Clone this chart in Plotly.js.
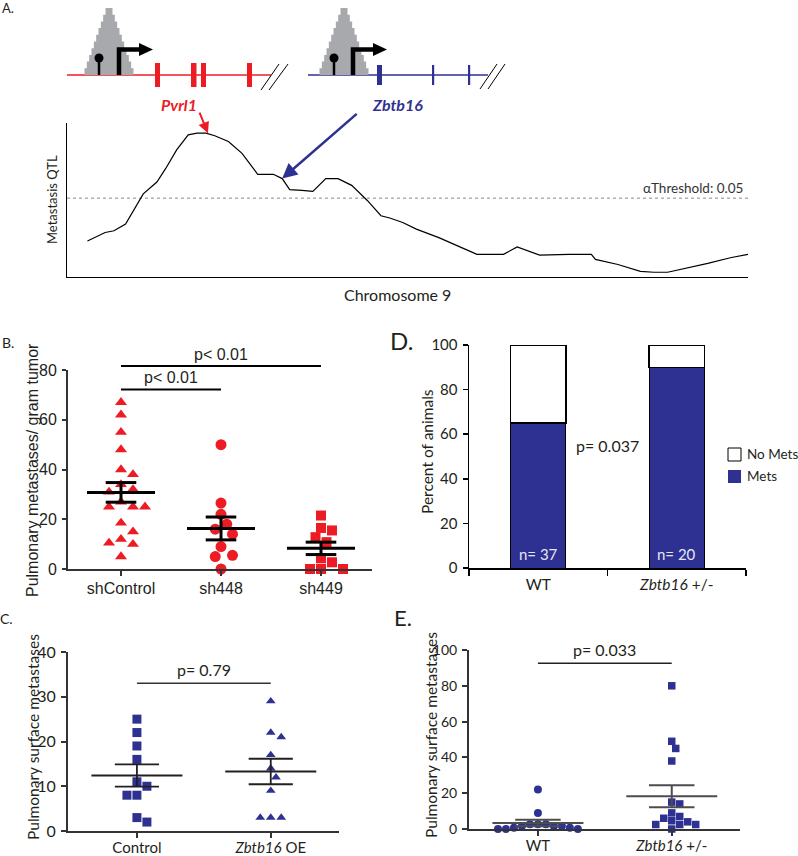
<!DOCTYPE html>
<html><head><meta charset="utf-8">
<script src="https://cdn.plot.ly/plotly-3.0.1.min.js"></script>
<style>html,body{margin:0;padding:0;background:#fff}#chart{width:798px;height:856px}</style>
</head><body><div id="chart"></div>
<script>
// ---------------- DATA ----------------
// Panel A: metastasis QTL along chromosome 9 (relative position, relative score)
const qtlPos = [3.0,5.6,6.9,8.6,11.2,13.2,14.5,16.1,17.8,19.1,20.4,21.7,23.7,25.7,28.0,30.3,31.6,32.7,34.5,36.1,38.0,39.8,41.8,44.1,46.1,47.4,49.3,51.3,54.6,56.9,58.2,60.2,64.1,66.1,69.4,73.7,77.0,77.6,80.9,84.2,86.2,88.2,90.5,94.1,97.4,100];
const qtlScore = [23.4,28.9,30.0,34.4,54.0,61.7,70.5,82.5,92.3,93.4,93.4,91.7,88.0,80.3,66.7,66.7,63.9,56.7,56.2,55.6,63.9,63.9,59.5,49.7,39.8,38.3,35.4,31.1,25.6,20.8,18.6,14.7,14.7,19.5,14.2,14.7,14.7,11.4,8.1,3.7,3.1,3.1,5.3,8.8,12.5,14.7];
const qtlThreshold = 51.2;
const qtlThresholdLabel = 'αThreshold: 0.05';
const genePvrl1Peak = [20.7, 93.4];
const geneZbtb16Point = [31.6, 63.9];

// Panel B
const bCats = ['shControl','sh448','sh449'];
const bShControl = [67,62,55,48,40,38,34,32,31,27,25,25,25,18.5,15,12,10.5,10,5];
const bSh448 = [50,26.5,22,18,16,14,9,5,5.5,0];
const bSh449 = [21.5,16.5,15.5,12.8,10.8,4.3,2.7,0,0,0];
const bMean = [30.8,16.3,8.3];
const bSem = [3.95,4.6,2.5];
const bPText = ['p< 0.01','p< 0.01'];
const bPPairs = [[0,2],[0,1]];
const bPLevel = [81.6,72.2];

// Panel C
const cCats = ['Control','<i>Zbtb16</i> OE'];
const cControl = [25,22,19,16,11,10,8,8,3,2];
const cOE = [29,22,21,17,14,12,9,3,3,3];
const cMean = [12.4,13.3];
const cSem = [2.5,2.85];
const cPText = 'p= 0.79';
const cPLevel = 33;

// Panel D
const dCats = ['WT','<i>Zbtb16</i> +/-'];
const dMets = [65,90];
const dNoMets = [35,10];
const dN = ['n= 37','n= 20'];
const dPText = 'p= 0.037';

// Panel E
const eCats = ['WT','<i>Zbtb16</i> +/-'];
const eWT = [22,9,2.6,2.6,2.6,1.7,1.7,1.7,0.7,0.7,0,0,0];
const eHet = [80,49,45,38,15,14,9,7,6,4.6,4,2.5,2.5,2.5,0];
const eMean = [3.4,18.3];
const eSem = [1.8,6.1];
const ePText = 'p= 0.033';
const ePLevel = 92.6;

// ---------------- STYLE / HELPERS ----------------
const W = 798, H = 856;
const FL = 'Lato, "Open Sans", sans-serif';
const FA = '"Liberation Sans", Arial, sans-serif';
const INK = '#231F20';
const RED = '#ED1C24';
const NAVY = '#2E3192';
const GRAY = '#A7A9AC';
const X = v => v / W;
const Y = v => 1 - v / H;

function swarm(vals, center, pxX, pxY, w) {
  const order = vals.map((v, i) => i).sort((a, b) => vals[b] - vals[a]);
  const placed = [];
  const xs = new Array(vals.length);
  const s = w / 2;
  for (const i of order) {
    const yy = vals[i] * pxY;
    let off = 0;
    for (let k = 0; k < 80; k++) {
      off = k === 0 ? 0 : (k % 2 === 1 ? 1 : -1) * Math.ceil(k / 2) * s;
      const ok = placed.every(p => {
        const dx = p[0] - off, dy = p[1] - yy;
        return dx * dx + dy * dy >= (w * 0.97) * (w * 0.97);
      });
      if (ok) break;
    }
    placed.push([off, yy]);
    xs[i] = center + off / pxX;
  }
  return xs;
}

function meanSem(means, sems, hm, hs) {
  const x = [], y = [];
  means.forEach((m, i) => {
    x.push(i - hm, i + hm, null); y.push(m, m, null);
    x.push(i - hs, i + hs, null); y.push(m + sems[i], m + sems[i], null);
    x.push(i - hs, i + hs, null); y.push(m - sems[i], m - sems[i], null);
    x.push(i, i, null); y.push(m - sems[i], m + sems[i], null);
  });
  return {x, y};
}

function scatter(vals, idx, xa, ya, pxX, pxY, w, symbol, size, color) {
  return {
    type: 'scatter', mode: 'markers', xaxis: xa, yaxis: ya,
    x: swarm(vals, idx, pxX, pxY, w), y: vals, cliponaxis: false,
    marker: {symbol: symbol, size: size, color: color, line: {width: 0}},
    showlegend: false, hoverinfo: 'skip'
  };
}

function lineTrace(x, y, xa, ya, color, width, dash) {
  return {type: 'scatter', mode: 'lines', x: x, y: y, xaxis: xa, yaxis: ya, cliponaxis: false,
    line: {color: color, width: width, dash: dash || 'solid'}, showlegend: false, hoverinfo: 'skip', connectgaps: false};
}

// ---------------- TRACES ----------------
const traces = [];
// A
traces.push(lineTrace([0, 100], [qtlThreshold, qtlThreshold], 'x', 'y', '#8a8a8a', 1, 'dot'));
traces.push(lineTrace(qtlPos, qtlScore, 'x', 'y', '#000', 1.2));

// B (x2/y2): 100 px per category, 199/80 px per unit
const bPX = 100, bPY = 199 / 80;
traces.push(scatter(bShControl, 0, 'x2', 'y2', bPX, bPY, 12, 'triangle-up', 10.5, RED));
traces.push(scatter(bSh448, 1, 'x2', 'y2', bPX, bPY, 11.5, 'circle', 11, RED));
traces.push(scatter(bSh449, 2, 'x2', 'y2', bPX, bPY, 11, 'square', 10, RED));
const bMS = meanSem(bMean, bSem, 0.34, 0.153);
traces.push(lineTrace(bMS.x, bMS.y, 'x2', 'y2', '#000', 3));
{
  // significance brackets share B's scale on a taller, hidden companion axis (y6)
  const bx = [], by = [];
  bPPairs.forEach((p, i) => { bx.push(p[0], p[1], null); by.push(bPLevel[i], bPLevel[i], null); });
  traces.push(lineTrace(bx, by, 'x2', 'y6', '#000', 2));
}

// D (x3/y3)
traces.push({type: 'bar', x: [0, 1], y: dMets, xaxis: 'x3', yaxis: 'y3', width: 0.4, name: 'Mets',
  marker: {color: NAVY, line: {color: '#000', width: 1}}, showlegend: false, hoverinfo: 'skip', cliponaxis: false});
traces.push({type: 'bar', x: [0, 1], y: dNoMets, xaxis: 'x3', yaxis: 'y3', width: 0.4, name: 'No Mets',
  marker: {color: '#fff', line: {color: '#000', width: 1.2}}, showlegend: false, hoverinfo: 'skip', cliponaxis: false});

// C (x4/y4): 134 px per category, 179/40 px per unit
const cPX = 134, cPY = 179 / 40;
traces.push(scatter(cControl, 0, 'x4', 'y4', cPX, cPY, 10, 'square', 9, NAVY));
traces.push(scatter(cOE, 1, 'x4', 'y4', cPX, cPY, 10.5, 'triangle-up', 8.5, NAVY));
const cMS = meanSem(cMean, cSem, 0.34, 0.165);
traces.push(lineTrace(cMS.x, cMS.y, 'x4', 'y4', INK, 1.8));
traces.push(lineTrace([0, 1], [cPLevel, cPLevel], 'x4', 'y4', '#333', 1.5));

// E (x5/y5): 134 px per category, 179/100 px per unit
const ePX = 134, ePY = 179 / 100;
traces.push(scatter(eWT, 0, 'x5', 'y5', ePX, ePY, 8, 'circle', 8, NAVY));
traces.push(scatter(eHet, 1, 'x5', 'y5', ePX, ePY, 8, 'square', 7.5, NAVY));
const eMS = meanSem(eMean, eSem, 0.34, 0.17);
traces.push(lineTrace(eMS.x, eMS.y, 'x5', 'y5', '#4d4d4d', 2));
traces.push(lineTrace([0, 1], [ePLevel, ePLevel], 'x5', 'y5', '#222', 1.5));

// ---------------- AXES ----------------
function catAxis(d0, d1, range, anchor, vals, text, font, lc, lw, tl, so) {
  return {domain: [X(d0), X(d1)], range: range, anchor: anchor, tickmode: 'array', tickvals: vals, ticktext: text,
    ticks: 'outside', ticklen: tl, tickwidth: lw, tickcolor: lc, showline: true, linecolor: lc, linewidth: lw,
    showgrid: false, zeroline: false, tickfont: font, fixedrange: true, ticklabelstandoff: so || 0};
}
function valAxis(top, bottom, range, anchor, dtick, font, lc, lw, tl) {
  return {domain: [Y(bottom), Y(top)], range: range, anchor: anchor, tickmode: 'linear', tick0: 0, dtick: dtick,
    ticks: 'outside', ticklen: tl, tickwidth: lw, tickcolor: lc, showline: true, linecolor: lc, linewidth: lw,
    showgrid: false, zeroline: false, tickfont: font, fixedrange: true, ticklabelstandoff: 2};
}

const bTop = 336; // top of the hidden bracket axis, px
const layout = {
  width: W, height: H, margin: {l: 0, r: 0, t: 0, b: 0}, paper_bgcolor: '#fff', plot_bgcolor: 'rgba(0,0,0,0)',
  showlegend: false, barmode: 'stack', hovermode: false,
  xaxis: {domain: [X(67), X(748)], range: [0, 100], anchor: 'y', showline: true, linecolor: '#000', linewidth: 1.3,
    showticklabels: false, ticks: '', showgrid: false, zeroline: false, fixedrange: true},
  yaxis: {domain: [Y(277), Y(123)], range: [0, 100], anchor: 'x', showline: true, linecolor: '#000', linewidth: 1.3,
    showticklabels: false, ticks: '', showgrid: false, zeroline: false, fixedrange: true},
  xaxis2: catAxis(68, 372, [-0.53, 2.51], 'y2', [0, 1, 2], bCats, {family: FA, size: 16, color: INK}, '#333', 2, 5, -1),
  yaxis2: valAxis(370, 569, [0, 80], 'x2', 20, {family: FA, size: 16, color: INK}, '#333', 2, 4),
  yaxis6: {domain: [Y(569), Y(bTop)], range: [0, (569 - bTop) / bPY], anchor: 'x2', visible: false, fixedrange: true},
  xaxis3: Object.assign(catAxis(469, 746, [-0.5, 1.5], 'y3', [0, 1], dCats, {family: FL, size: 15.5, color: INK}, '#000', 1.5, 0, 2),
    {ticks: '', minor: {tick0: -0.5, dtick: 1, ticks: 'outside', ticklen: 6, tickwidth: 1.5, tickcolor: '#000', showgrid: false}}),
  yaxis3: valAxis(345, 568, [0, 100], 'x3', 20, {family: FL, size: 15, color: INK}, '#000', 1.5, 5),
  xaxis4: catAxis(68, 339, [-0.515, 1.51], 'y4', [0, 1], cCats, {family: FL, size: 15, color: INK}, '#333', 2, 5, -3),
  yaxis4: valAxis(652, 831, [0, 40], 'x4', 10, {family: FL, size: 16, color: INK}, '#333', 2, 5),
  xaxis5: catAxis(469, 740, [-0.515, 1.51], 'y5', [0, 1], eCats, {family: FL, size: 15, color: INK}, '#333', 2, 5, -3),
  yaxis5: valAxis(650, 829, [0, 100], 'x5', 20, {family: FL, size: 14, color: INK}, '#333', 2, 5),
  shapes: [], annotations: []
};

// ---------------- SCHEMATIC (panel A, gene structures) ----------------
const S = layout.shapes;
function pline(x0, y0, x1, y1, color, w) {
  S.push({type: 'line', xref: 'paper', yref: 'paper', x0: X(x0), y0: Y(y0), x1: X(x1), y1: Y(y1), line: {color: color, width: w}});
}
function prect(x0, y0, x1, y1, color) {
  S.push({type: 'rect', xref: 'paper', yref: 'paper', x0: X(x0), y0: Y(y0), x1: X(x1), y1: Y(y1), fillcolor: color, line: {width: 0}});
}
function ppath(pts, fill, lineColor, lw, close) {
  const d = pts.map((p, i) => (i ? 'L' : 'M') + X(p[0]).toFixed(5) + ',' + Y(p[1]).toFixed(5)).join(' ') + (close ? ' Z' : '');
  S.push({type: 'path', xref: 'paper', yref: 'paper', path: d, fillcolor: fill || 'rgba(0,0,0,0)', line: {color: lineColor || 'rgba(0,0,0,0)', width: lw || 0}});
}
function pyramid(cx) {
  const steps = 10, top = 8, base = 75, hTop = 3.5, hBase = 24.5, dy = (base - top) / steps;
  const pts = [];
  for (let i = 0; i < steps; i++) {
    const h = hBase - (hBase - hTop) * i / (steps - 1);
    pts.push([cx - h, base - dy * i], [cx - h, base - dy * (i + 1)]);
  }
  for (let i = steps - 1; i >= 0; i--) {
    const h = hBase - (hBase - hTop) * i / (steps - 1);
    pts.push([cx + h, base - dy * (i + 1)], [cx + h, base - dy * i]);
  }
  ppath(pts, GRAY, null, 0, true);
}
function promoter(cx, stickX, arrowX, headEnd) {
  pyramid(cx);
  pline(stickX, 75, stickX, 58, '#000', 2.5);
  S.push({type: 'circle', xref: 'paper', yref: 'paper', x0: X(stickX - 4.5), x1: X(stickX + 4.5), y0: Y(62.5), y1: Y(53.5), fillcolor: '#000', line: {width: 0}});
  ppath([[arrowX, 75], [arrowX, 49.5], [headEnd - 13, 49.5]], null, '#000', 4.5, false);
  ppath([[headEnd - 14, 43], [headEnd, 49.5], [headEnd - 14, 56]], '#000', null, 0, true);
}
// Pvrl1
pline(67, 75, 271, 75, RED, 1.5);
promoter(109, 99, 119, 153);
[[155, 160], [191, 196.5], [201, 206], [247, 252]].forEach(e => prect(e[0], 63, e[1], 87, RED));
pline(261, 90, 279, 64, '#000', 1); pline(269, 90, 288, 64, '#000', 1);
// Zbtb16
pline(308, 75, 488, 75, NAVY, 1.5);
promoter(344, 334, 353, 387);
[[377, 382], [432, 434.2], [468, 470.2]].forEach(e => prect(e[0], 65, e[1], 85, NAVY));
pline(480, 89, 497, 64, '#000', 1); pline(488, 89, 505, 64, '#000', 1);

// Legend of panel D (drawn boxes)
S.push({type: 'rect', xref: 'paper', yref: 'paper', x0: X(728), x1: X(741), y0: Y(461), y1: Y(448), fillcolor: '#fff', line: {color: '#000', width: 1}});
S.push({type: 'rect', xref: 'paper', yref: 'paper', x0: X(728), x1: X(741), y0: Y(483), y1: Y(470), fillcolor: NAVY, line: {width: 0}});

// ---------------- TEXT ----------------
const A = layout.annotations;
function ptext(txt, x, y, size, opts) {
  A.push(Object.assign({xref: 'paper', yref: 'paper', x: X(x), y: Y(y), text: txt, showarrow: false,
    xanchor: 'center', yanchor: 'middle', font: {family: FL, size: size, color: INK}}, opts || {}));
}
ptext('A.', 8, 8, 13);
ptext('B.', 8, 342, 14);
ptext('C.', 6, 618, 14);
ptext('D.', 401, 340, 24);
ptext('E.', 403, 617, 22);

ptext('<b><i>Pvrl1</i></b>', 179, 104, 16, {font: {family: FL, size: 16, color: RED}});
ptext('<b><i>Zbtb16</i></b>', 397, 104, 16, {font: {family: FL, size: 16, color: NAVY}});
A.push({xref: 'x', yref: 'y', x: genePvrl1Peak[0], y: genePvrl1Peak[1], text: '', showarrow: true, axref: 'pixel', ayref: 'pixel',
  ax: -9, ay: -22, arrowcolor: RED, arrowwidth: 2, arrowhead: 2, arrowsize: 1.1, standoff: 0});
A.push({xref: 'x', yref: 'y', x: geneZbtb16Point[0], y: geneZbtb16Point[1], text: '', showarrow: true, axref: 'pixel', ayref: 'pixel',
  ax: 76, ay: -66, arrowcolor: NAVY, arrowwidth: 2.5, arrowhead: 2, arrowsize: 1.2, standoff: 0});
A.push({xref: 'x', yref: 'y', x: 100, y: qtlThreshold, text: qtlThresholdLabel, showarrow: false, xanchor: 'right', yanchor: 'bottom',
  xshift: -3, yshift: 0, font: {family: FL, size: 13.5, color: '#333'}});

// axis titles (rotated text)
ptext('Metastasis QTL', 52, 200, 13, {textangle: -90});
ptext('Chromosome 9', 397, 294, 16);
ptext('Pulmonary metastases/ gram tumor', 32, 470, 16, {textangle: -90, font: {family: FA, size: 16, color: INK}});
ptext('Percent of animals', 427, 452, 15.5, {textangle: -90});
ptext('Pulmonary surface metastases', 33, 737, 15.5, {textangle: -90});
ptext('Pulmonary surface metastases', 431, 735, 15.5, {textangle: -90});

// p-values
bPText.forEach((t, i) => A.push({xref: 'x2', yref: 'y6', x: (bPPairs[i][0] + bPPairs[i][1]) / 2, y: bPLevel[i], text: t,
  showarrow: false, yanchor: 'bottom', yshift: 1, font: {family: FA, size: 16, color: INK}}));
A.push({xref: 'x4', yref: 'y4', x: 0.5, y: cPLevel, text: cPText, showarrow: false, yanchor: 'bottom', yshift: 2, font: {family: FL, size: 16, color: INK}});
A.push({xref: 'x5', yref: 'y5', x: 0.5, y: ePLevel, text: ePText, showarrow: false, yanchor: 'bottom', yshift: 2, font: {family: FL, size: 16, color: INK}});
A.push({xref: 'x3', yref: 'y3', x: 0.5, y: 55, text: dPText, showarrow: false, font: {family: FL, size: 16, color: INK}});
dN.forEach((t, i) => A.push({xref: 'x3', yref: 'y3', x: i, y: 0, text: t, showarrow: false, yanchor: 'bottom', yshift: 3,
  font: {family: FL, size: 15, color: '#E6E6F2'}}));

// legend text of panel D
ptext('No Mets', 745, 454, 13.5, {xanchor: 'left'});
ptext('Mets', 745, 476, 13.5, {xanchor: 'left'});

Plotly.newPlot('chart', traces, layout, {staticPlot: true, displayModeBar: false});
</script>
</body></html>
